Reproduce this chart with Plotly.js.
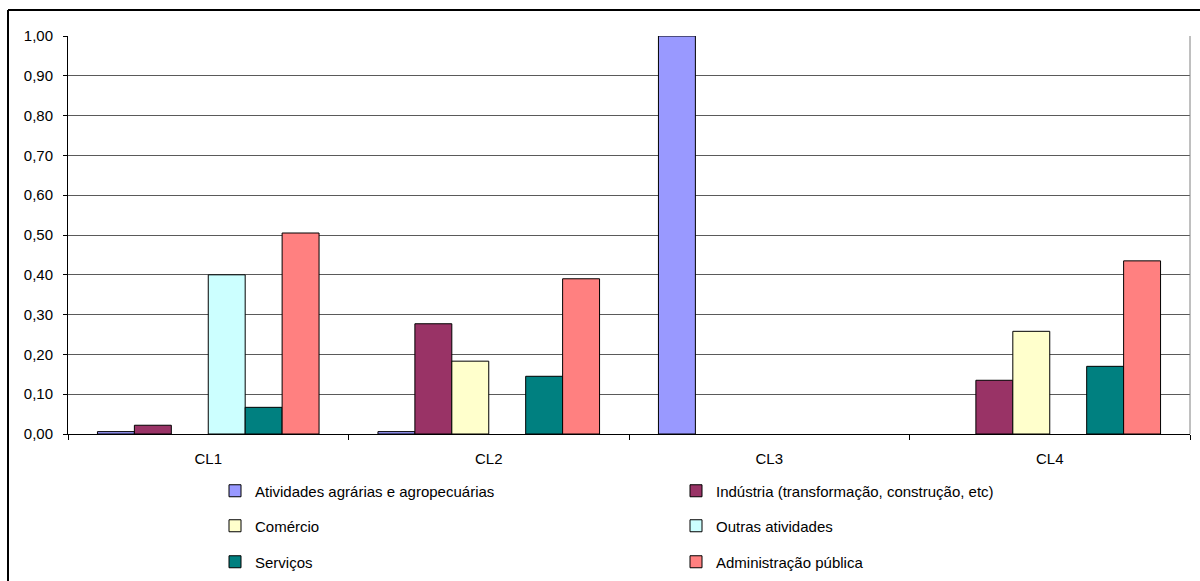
<!DOCTYPE html>
<html>
<head>
<meta charset="utf-8">
<script src="https://cdn.plot.ly/plotly-3.0.1.min.js"></script>
<style>
  html, body { margin: 0; padding: 0; background: #fff; overflow: hidden; }
  #chart { width: 1200px; height: 581px; }
</style>
</head>
<body>
<div id="chart"></div>
<script>
// Clusters on the x axis
const categories = ['CL1', 'CL2', 'CL3', 'CL4'];

// Share of each activity sector per cluster (null = no bar)
const atividadesAgrarias = [0.006, 0.006, 1.00, null];
const industria          = [0.022, 0.277, null, 0.135];
const comercio           = [null, 0.183, null, 0.258];
const outrasAtividades   = [0.40, null, null, null];
const servicos           = [0.067, 0.145, null, 0.170];
const administracao      = [0.505, 0.390, null, 0.435];

const seriesNames = [
  'Atividades agrárias e agropecuárias',
  'Indústria (transformação, construção, etc)',
  'Comércio',
  'Outras atividades',
  'Serviços',
  'Administração pública'
];
const seriesValues = [atividadesAgrarias, industria, comercio, outrasAtividades, servicos, administracao];
const seriesColors = ['#9999FF', '#993366', '#FFFFCC', '#CCFFFF', '#008080', '#FF8080'];

const FONT = 'Arial, "Liberation Sans", sans-serif';

// one legend box per series, laid out as a 2-column grid under the plot
const legendIds = ['legend', 'legend2', 'legend3', 'legend4', 'legend5', 'legend6'];

const traces = seriesNames.map((name, i) => ({
  type: 'bar',
  name: name,
  x: categories,
  y: seriesValues[i],
  legend: legendIds[i],
  marker: { color: seriesColors[i], line: { color: '#000000', width: 1 } },
  hoverinfo: 'skip'
}));

// plot area: 68..1190 px horizontally, 36..434 px vertically
const W = 1200, H = 581;
const L = 68, R = 10, T = 36, B = 147;
const pw = W - L - R, ph = H - T - B;
const px = v => (v - L) / pw;
const py = v => (H - B - v) / ph;

const legendCols = [215, 676];
const legendRows = [491, 526, 562];

const layout = {
  width: W,
  height: H,
  margin: { l: L, r: R, t: T, b: B, pad: 0, autoexpand: false },
  paper_bgcolor: '#ffffff',
  plot_bgcolor: '#ffffff',
  font: { family: FONT, size: 15, color: '#000' },
  separators: ',.',
  barmode: 'group',
  bargap: 0.21,
  bargroupgap: 0,
  showlegend: true,
  xaxis: {
    type: 'category',
    showline: true,
    linecolor: '#000',
    linewidth: 1,
    ticks: 'outside',
    tickson: 'boundaries',
    ticklen: 5,
    tickcolor: '#000',
    ticklabelstandoff: 11,
    showgrid: false,
    zeroline: false,
    tickfont: { family: FONT, size: 15, color: '#000' }
  },
  yaxis: {
    range: [0, 1.0],
    dtick: 0.1,
    tick0: 0,
    tickformat: '.2f',
    showline: true,
    linecolor: '#000',
    linewidth: 1,
    ticks: 'outside',
    ticklen: 4,
    tickcolor: '#000',
    ticklabelstandoff: 7,
    showgrid: true,
    gridcolor: '#5a5a5a',
    gridwidth: 1,
    zeroline: false,
    tickfont: { family: FONT, size: 15, color: '#000' }
  },
  shapes: [
    // right edge of the plot area
    { type: 'line', xref: 'paper', yref: 'paper', x0: 1, x1: 1, y0: 0, y1: 1,
      line: { color: '#808080', width: 1 } },
    // outer chart frame (top and left edges)
    { type: 'line', xref: 'paper', yref: 'paper', x0: px(8), x1: px(1260), y0: py(10), y1: py(10),
      line: { color: '#000', width: 2 } },
    { type: 'line', xref: 'paper', yref: 'paper', x0: px(8), x1: px(8), y0: py(10), y1: py(640),
      line: { color: '#000', width: 2 } }
  ]
};

legendIds.forEach((id, i) => {
  layout[id] = {
    orientation: 'v',
    xanchor: 'left',
    yanchor: 'middle',
    x: px(legendCols[i % 2]),
    y: py(legendRows[Math.floor(i / 2)]),
    font: { family: FONT, size: 15, color: '#000' },
    bgcolor: 'rgba(0,0,0,0)',
    borderwidth: 0
  };
});

Plotly.newPlot('chart', traces, layout, { staticPlot: true, displayModeBar: false });
</script>
</body>
</html>
